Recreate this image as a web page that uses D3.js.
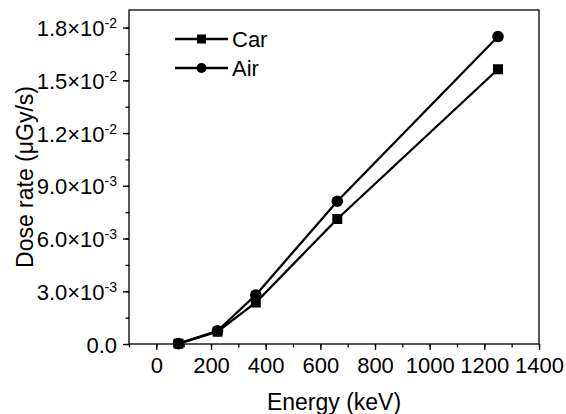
<!DOCTYPE html>
<html>
<head>
<meta charset="utf-8">
<script src="https://cdn.jsdelivr.net/npm/d3@7"></script>
<style>
  body { margin: 0; background: #fff; }
  text { font-family: "Liberation Sans", Arial, sans-serif; fill: #000; }
</style>
</head>
<body>
<svg id="chart" width="566" height="414"></svg>
<script>
// datos
const energies = [81, 224, 364, 662, 1250];
const carValues = [0.00002, 0.00070, 0.00236, 0.00711, 0.01563];
const airValues = [0.00002, 0.00075, 0.00279, 0.00812, 0.01749];
const seriesNames = ["Car", "Air"];
const xTicks = [0, 200, 400, 600, 800, 1000, 1200, 1400];
const yTicks = [0, 0.003, 0.006, 0.009, 0.012, 0.015, 0.018];

const FONT = "22px";

const svg = d3.select("#chart");
const margin = { top: 10, right: 27, bottom: 70, left: 129 };
const width = 566 - margin.left - margin.right;
const height = 414 - margin.top - margin.bottom;

const x = d3.scaleLinear().domain([-100, 1400]).range([margin.left, margin.left + width]);
const y = d3.scaleLinear().domain([0, 0.019]).range([margin.top + height, margin.top]);

// caixa do grafico
svg.append("rect")
  .attr("x", margin.left).attr("y", margin.top)
  .attr("width", width).attr("height", height)
  .attr("fill", "none").attr("stroke", "#000").attr("stroke-width", 1.3);

// eixo x
const xAxis = svg.append("g").attr("transform", `translate(0,${margin.top + height})`);
xAxis.call(d3.axisBottom(x).tickValues(d3.range(-100, 1401, 100)).tickSize(3.5).tickFormat(""))
  .call((g) => g.select(".domain").remove());
xAxis.append("g").call(d3.axisBottom(x).tickValues(xTicks).tickSize(6).tickPadding(7).tickFormat(d3.format("d")))
  .call((g) => g.select(".domain").remove())
  .call((g) => g.selectAll("text").attr("dy", null).attr("dominant-baseline", "hanging")
    .style("font-size", FONT).attr("fill", "#000"));
xAxis.selectAll("line").attr("stroke", "#000").attr("stroke-width", 1.3);

// eixo y
const yAxis = svg.append("g").attr("transform", `translate(${margin.left},0)`);
yAxis.call(d3.axisLeft(y).tickValues(d3.range(0, 0.0181, 0.0015)).tickSize(3.5).tickFormat(""))
  .call((g) => g.select(".domain").remove());
const yMajor = yAxis.append("g").call(d3.axisLeft(y).tickValues(yTicks).tickSize(6).tickFormat(""))
  .call((g) => g.select(".domain").remove());
yAxis.selectAll("line").attr("stroke", "#000").attr("stroke-width", 1.3);

yMajor.selectAll(".tick").each(function (d) {
  const t = d3.select(this).append("text")
    .attr("x", -12).attr("y", 8)
    .attr("text-anchor", "end")
    .style("font-size", FONT);
  if (d === 0) {
    t.text("0.0");
  } else {
    const exp = Math.floor(Math.log10(d) + 1e-9);
    const mant = (d / Math.pow(10, exp)).toFixed(1);
    t.append("tspan").text(mant + "\u00d710");
    t.append("tspan").attr("dy", "-8").style("font-size", "14px").text("-" + String(-exp));
  }
});

// titulos dos eixos
svg.append("text")
  .attr("x", margin.left + width / 2).attr("y", 410)
  .attr("text-anchor", "middle").style("font-size", "23px")
  .text("Energy (keV)");
svg.append("text")
  .attr("transform", `translate(33,177) rotate(-90)`)
  .attr("text-anchor", "middle").style("font-size", "23px")
  .text("Dose rate (\u03bcGy/s)");

// series
const series = [
  { name: seriesNames[0], values: carValues, shape: "square" },
  { name: seriesNames[1], values: airValues, shape: "circle" }
];

const line = d3.line().x((d) => x(d[0])).y((d) => y(d[1]));

function drawMarker(g, shape, cx, cy) {
  if (shape === "square") {
    g.append("rect").attr("x", cx - 5).attr("y", cy - 5).attr("width", 10).attr("height", 10).attr("fill", "#000");
  } else {
    g.append("circle").attr("cx", cx).attr("cy", cy).attr("r", 5.8).attr("fill", "#000");
  }
}

series.forEach((s) => {
  const pts = energies.map((e, i) => [e, s.values[i]]);
  svg.append("path").datum(pts)
    .attr("d", line).attr("fill", "none")
    .attr("stroke", "#000").attr("stroke-width", 2.3);
  const g = svg.append("g");
  pts.forEach((p) => drawMarker(g, s.shape, x(p[0]), y(p[1])));
});

// legenda
series.forEach((s, i) => {
  const ly = 39 + i * 29;
  const g = svg.append("g");
  g.append("line").attr("x1", 175).attr("x2", 228).attr("y1", ly).attr("y2", ly)
    .attr("stroke", "#000").attr("stroke-width", 2.3);
  if (s.shape === "square") {
    g.append("rect").attr("x", 197).attr("y", ly - 4.5).attr("width", 9).attr("height", 9).attr("fill", "#000");
  } else {
    g.append("circle").attr("cx", 201.5).attr("cy", ly).attr("r", 5).attr("fill", "#000");
  }
  g.append("text").attr("x", 232).attr("y", ly + 8)
    .style("font-size", FONT).text(s.name);
});
</script>
</body>
</html>
